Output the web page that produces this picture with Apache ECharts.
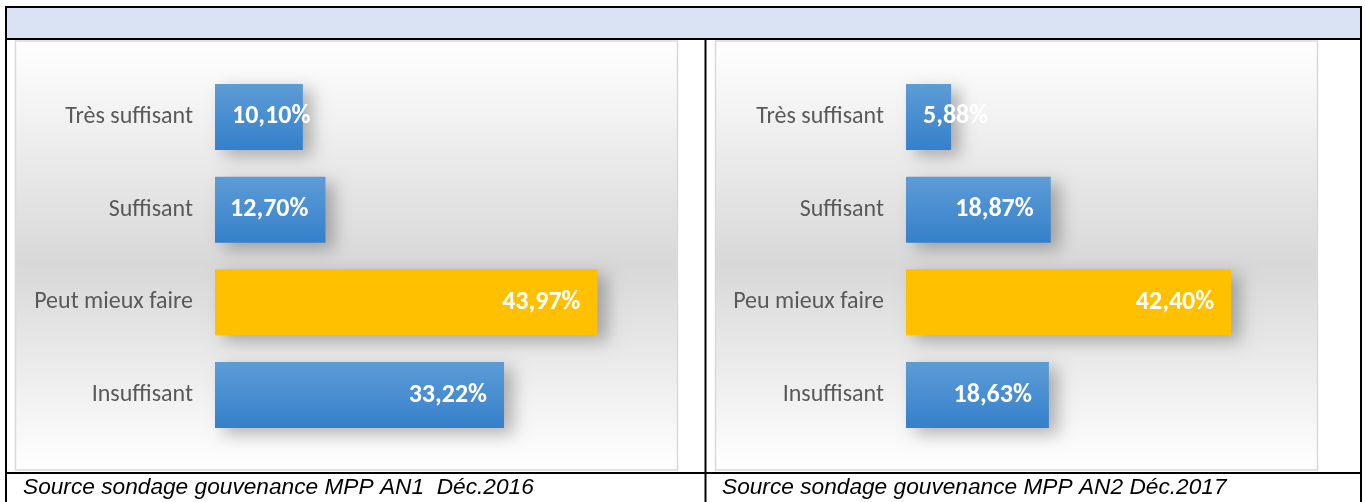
<!DOCTYPE html>
<html>
<head>
<meta charset="utf-8">
<script src="https://cdn.jsdelivr.net/npm/echarts@6/dist/echarts.min.js"></script>
<style>
html,body{margin:0;padding:0;background:#fff;}
#c{width:1365px;height:502px;}
</style>
</head>
<body>
<div id="c"></div>
<script>
// Data
const categories2016 = ['Très suffisant', 'Suffisant', 'Peut mieux faire', 'Insuffisant'];
const values2016 = [10.10, 12.70, 43.97, 33.22];
const categories2017 = ['Très suffisant', 'Suffisant', 'Peu mieux faire', 'Insuffisant'];
const values2017 = [5.88, 18.87, 42.40, 18.63];
const highlightIndex = 2;
const source2016 = 'Source sondage gouvenance MPP AN1  Déc.2016';
const source2017 = 'Source sondage gouvenance MPP AN2 Déc.2017';
const axisMax = 50;

const blueGrad = new echarts.graphic.LinearGradient(0, 0, 0, 1, [
  {offset: 0, color: '#5D9CD6'},
  {offset: 1, color: '#3580CB'}
]);
const bgGrad = new echarts.graphic.LinearGradient(0, 0, 0, 1, [
  {offset: 0, color: '#ffffff'},
  {offset: 0.52, color: '#d8d8d8'},
  {offset: 1, color: '#ffffff'}
]);

function fmt(v) { return v.toFixed(2).replace('.', ',') + '%'; }

function buildData(values) {
  return values.map((v, i) => ({
    value: v,
    itemStyle: {color: i === highlightIndex ? '#FFC000' : blueGrad},
    label: v < 12 ? {position: 'insideLeft', distance: 17} : {position: 'insideRight', distance: 17}
  }));
}

const labelFont = 'Carlito, Lato, sans-serif';

function axisPair(idx, cats) {
  return {
    x: {gridIndex: idx, type: 'value', min: 0, max: axisMax, show: false},
    y: {gridIndex: idx, type: 'category', data: cats, inverse: true,
        axisLine: {show: false}, axisTick: {show: false}, splitLine: {show: false},
        axisLabel: {margin: 22, color: '#595959', fontFamily: labelFont, fontSize: 24}}
  };
}
const a0 = axisPair(0, categories2016), a1 = axisPair(1, categories2017);

function barSeries(idx, values) {
  return {
    type: 'bar', xAxisIndex: idx, yAxisIndex: idx, barWidth: 66,
    data: buildData(values),
    itemStyle: {shadowBlur: 16, shadowOffsetX: 9, shadowOffsetY: 6, shadowColor: 'rgba(0,0,0,0.28)'},
    label: {show: true, color: '#ffffff', fontWeight: 'bold', fontFamily: labelFont, fontSize: 26,
            formatter: p => fmt(p.value)},
    silent: true, animation: false
  };
}

const line = (x1, y1, x2, y2) => ({type: 'line', z: 10, silent: true,
  shape: {x1, y1, x2, y2}, style: {stroke: '#000', lineWidth: 2}});

const chart = echarts.init(document.getElementById('c'), null, {renderer: 'canvas'});
chart.setOption({
  animation: false,
  backgroundColor: '#ffffff',
  grid: [
    {left: 215, top: 70.6, width: 435, height: 370.8},
    {left: 906, top: 70.6, width: 383.5, height: 370.8}
  ],
  xAxis: [a0.x, a1.x],
  yAxis: [a0.y, a1.y],
  series: [barSeries(0, values2016), barSeries(1, values2017)],
  graphic: [
    {type: 'rect', z: -10, silent: true, shape: {x: 7, y: 8, width: 1353, height: 31}, style: {fill: '#DAE3F3'}},
    {type: 'rect', z: -10, silent: true, shape: {x: 15.5, y: 41, width: 662, height: 429}, style: {fill: bgGrad, stroke: '#d9d9d9', lineWidth: 1.5}},
    {type: 'rect', z: -10, silent: true, shape: {x: 715.5, y: 41, width: 602, height: 429}, style: {fill: bgGrad, stroke: '#d9d9d9', lineWidth: 1.5}},
    line(5, 7, 1362, 7),
    line(6, 6, 6, 502),
    line(1361, 6, 1361, 502),
    line(5, 39, 1362, 39),
    line(5, 473, 1362, 473),
    line(705.5, 39, 705.5, 502),
    {type: 'text', z: 10, silent: true, style: {text: source2016, x: 23, y: 488, fill: '#000',
      font: 'italic 22.7px "Liberation Sans", Arial, sans-serif', textVerticalAlign: 'middle'}},
    {type: 'text', z: 10, silent: true, style: {text: source2017, x: 722, y: 488, fill: '#000',
      font: 'italic 22.7px "Liberation Sans", Arial, sans-serif', textVerticalAlign: 'middle'}}
  ]
});
</script>
</body>
</html>
